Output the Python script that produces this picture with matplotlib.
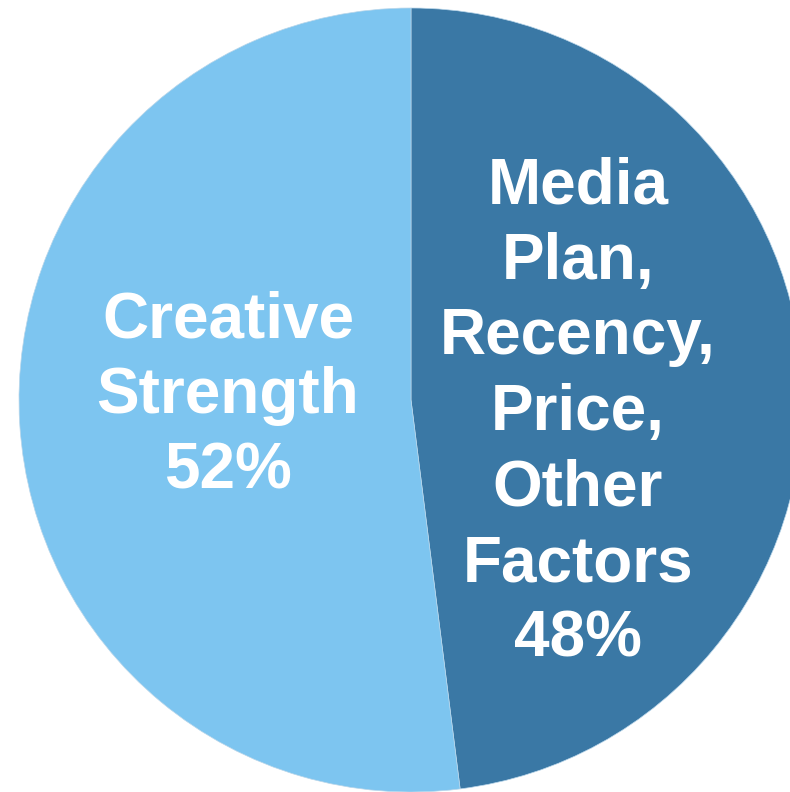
import matplotlib.pyplot as plt

# share of sales effect, clockwise from 12 o'clock
labels = ['Media\nPlan,\nRecency,\nPrice,\nOther\nFactors\n48%', 'Creative\nStrength\n52%']
shares = [48, 52]
colours = ['#3A78A5', '#7DC5F0']

fig = plt.figure(figsize=(7.9, 7.92), dpi=100)
ax = fig.add_axes([0, 0, 1, 1])

# pie sits a little off-frame on the right, so work in pixel units
ax.pie(shares, colors=colours, startangle=90, counterclock=False,
       center=(411, 392), radius=392,
       wedgeprops=dict(linewidth=0.5, edgecolor='#b9d6ea'))
ax.set_xlim(0, 790)
ax.set_ylim(0, 792)
ax.set_aspect('equal')
ax.axis('off')

txt = dict(color='white', fontsize=46, fontweight='bold', family='Liberation Sans',
           ha='center', va='center', linespacing=1.33)
ax.text(578, 379, labels[0], **txt)
ax.text(228, 396, labels[1], **txt)

fig.savefig('out.png', dpi=100)
